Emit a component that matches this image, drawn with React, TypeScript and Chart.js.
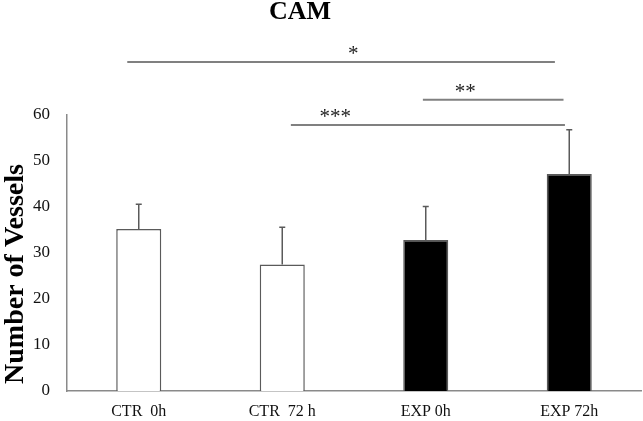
import React, { useEffect, useRef } from "react";
import { Chart, registerables } from "chart.js";

Chart.register(...registerables);

const categories = ["CTR  0h", "CTR  72 h", "EXP 0h", "EXP 72h"];
const means = [35.2, 27.5, 32.8, 47.2];
const errorTops = [40.6, 35.6, 40.1, 56.8];
const barFills = ["#ffffff", "#ffffff", "#000000", "#000000"];
const yTicks = [0, 10, 20, 30, 40, 50, 60];
const yAxisTitle = "Number of Vessels";
const chartTitle = "CAM";

// significance brackets (x in category units, y in value units)
const sigLabels = ["*", "**", "***"];
const sigStart = [-0.08, 1.98, 1.06];
const sigEnd = [2.9, 2.96, 2.97];
const sigLevel = [71.5, 63.3, 57.8];
const sigLabelX = [1.495, 2.275, 1.37];

const FONT = "'Liberation Serif', 'Times New Roman', serif";

const overlayPlugin = {
  id: "overlay",
  afterDatasetsDraw(chart: any) {
    const ctx = chart.ctx;
    const x = chart.scales.x;
    const y = chart.scales.y;
    ctx.save();
    // error bars
    ctx.strokeStyle = "#5a5a5a";
    ctx.lineWidth = 1.5;
    means.forEach((m, i) => {
      const px = x.getPixelForValue(i);
      const y0 = y.getPixelForValue(m);
      const y1 = y.getPixelForValue(errorTops[i]);
      ctx.beginPath();
      ctx.moveTo(px, y0);
      ctx.lineTo(px, y1);
      ctx.moveTo(px - 3, y1);
      ctx.lineTo(px + 3, y1);
      ctx.stroke();
    });
    // significance lines
    ctx.strokeStyle = "#808080";
    ctx.lineWidth = 2;
    ctx.fillStyle = "#222";
    ctx.font = `21px ${FONT}`;
    ctx.textAlign = "center";
    ctx.textBaseline = "alphabetic";
    sigLabels.forEach((lab, i) => {
      const py = y.getPixelForValue(sigLevel[i]);
      ctx.beginPath();
      ctx.moveTo(x.getPixelForValue(sigStart[i]), py);
      ctx.lineTo(x.getPixelForValue(sigEnd[i]), py);
      ctx.stroke();
      ctx.fillText(lab, x.getPixelForValue(sigLabelX[i]), py - 2);
    });
    // title
    ctx.fillStyle = "#000";
    ctx.font = `bold 26px ${FONT}`;
    ctx.textBaseline = "middle";
    ctx.fillText(chartTitle, 300, 12);
    // y axis title
    ctx.translate(16, 274);
    ctx.rotate(-Math.PI / 2);
    ctx.font = `bold 28px ${FONT}`;
    ctx.fillText(yAxisTitle, 0, 0);
    ctx.restore();
  },
};

export default function App() {
  const ref = useRef<HTMLCanvasElement | null>(null);
  useEffect(() => {
    if (!ref.current) return;
    const chart = new Chart(ref.current, {
      type: "bar",
      data: {
        labels: categories,
        datasets: [
          {
            data: means,
            backgroundColor: barFills,
            borderColor: "#5a5a5a",
            borderWidth: 1.5,
            categoryPercentage: 1,
            barPercentage: 0.314,
          },
        ],
      },
      options: {
        animation: false,
        responsive: true,
        maintainAspectRatio: false,
        layout: { padding: { top: 115, right: 2, left: 0, bottom: 0 } },
        plugins: {
          legend: { display: false },
          title: { display: false },
          tooltip: { enabled: false },
        },
        scales: {
          x: {
            grid: { display: false, drawTicks: false },
            border: { color: "#8a8a8a", width: 1.5 },
            ticks: {
              color: "#111",
              font: { family: FONT, size: 16 },
              padding: 11,
              maxRotation: 0,
            },
            afterFit: (s: any) => {
              s.height = 30;
            },
          },
          y: {
            min: 0,
            max: 60,
            grid: { display: false, drawTicks: false },
            border: { color: "#8a8a8a", width: 1.5 },
            afterBuildTicks: (s: any) => {
              s.ticks = yTicks.map((v) => ({ value: v }));
            },
            ticks: {
              color: "#111",
              font: { family: FONT, size: 17 },
              padding: 17,
            },
            afterFit: (s: any) => {
              s.width = 67;
            },
          },
        },
      },
      plugins: [overlayPlugin],
    });
    return () => chart.destroy();
  }, []);
  return (
    <div
      style={{
        position: "fixed",
        left: 0,
        top: 0,
        width: 643,
        height: 421,
        background: "#fff",
      }}
    >
      <canvas ref={ref} />
    </div>
  );
}
